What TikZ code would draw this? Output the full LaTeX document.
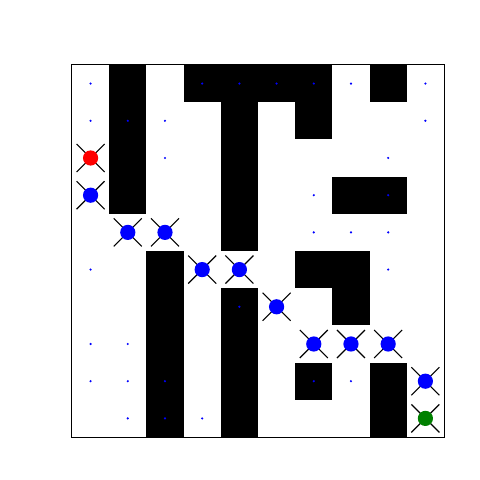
\documentclass[tikz,border=0pt]{standalone}
\usepackage{xcolor}
\usepackage{tikz}
\definecolor{pathgreen}{RGB}{0,128,0}
\tikzset{
  wall/.style={fill=black},
  crumb/.style={fill=blue},
  cross/.style={draw=black, line width=0.8pt},
}

\begin{document}
\begin{tikzpicture}[x=0.93cm, y=0.93cm]
    % Margins
    \useasboundingbox (-1.935,-1.156) rectangle (10.968,11.747);
    % Walls (column/row, row 0 on top)
    \foreach \c/\r in {1/0,3/0,4/0,5/0,6/0,8/0,
                       1/1,4/1,6/1,
                       1/2,4/2,
                       1/3,4/3,7/3,8/3,
                       4/4,
                       2/5,6/5,7/5,
                       2/6,4/6,7/6,
                       2/7,4/7,
                       2/8,4/8,6/8,8/8,
                       2/9,4/9,8/9}
        \fill[wall] (\c,9-\r) rectangle ++(1,1);
    % Small dots
    \foreach \c/\r in {0/0,3/0,4/0,5/0,6/0,7/0,9/0,
                       0/1,1/1,2/1,9/1,
                       2/2,8/2,
                       6/3,8/3,
                       6/4,7/4,8/4,
                       0/5,8/5,
                       4/6,
                       0/7,1/7,
                       0/8,1/8,2/8,6/8,7/8,
                       1/9,2/9,3/9}
        \fill[crumb] (\c+0.5,9.5-\r) circle (0.03cm);
    % Path markers
    \foreach \c/\r/\col in {0/2/red,0/3/blue,1/4/blue,2/4/blue,3/5/blue,4/5/blue,
                            5/6/blue,6/7/blue,7/7/blue,8/7/blue,9/8/blue,9/9/pathgreen} {
        \draw[cross] (\c+0.5,9.5-\r) ++(-0.35cm,-0.35cm) -- ++(0.7cm,0.7cm);
        \draw[cross] (\c+0.5,9.5-\r) ++(-0.35cm,0.35cm) -- ++(0.7cm,-0.7cm);
        \fill[\col] (\c+0.5,9.5-\r) circle (0.19cm);
    }
    % Frame
    \draw[line width=0.7pt] (0,0) rectangle (10,10);
\end{tikzpicture}
\end{document}
